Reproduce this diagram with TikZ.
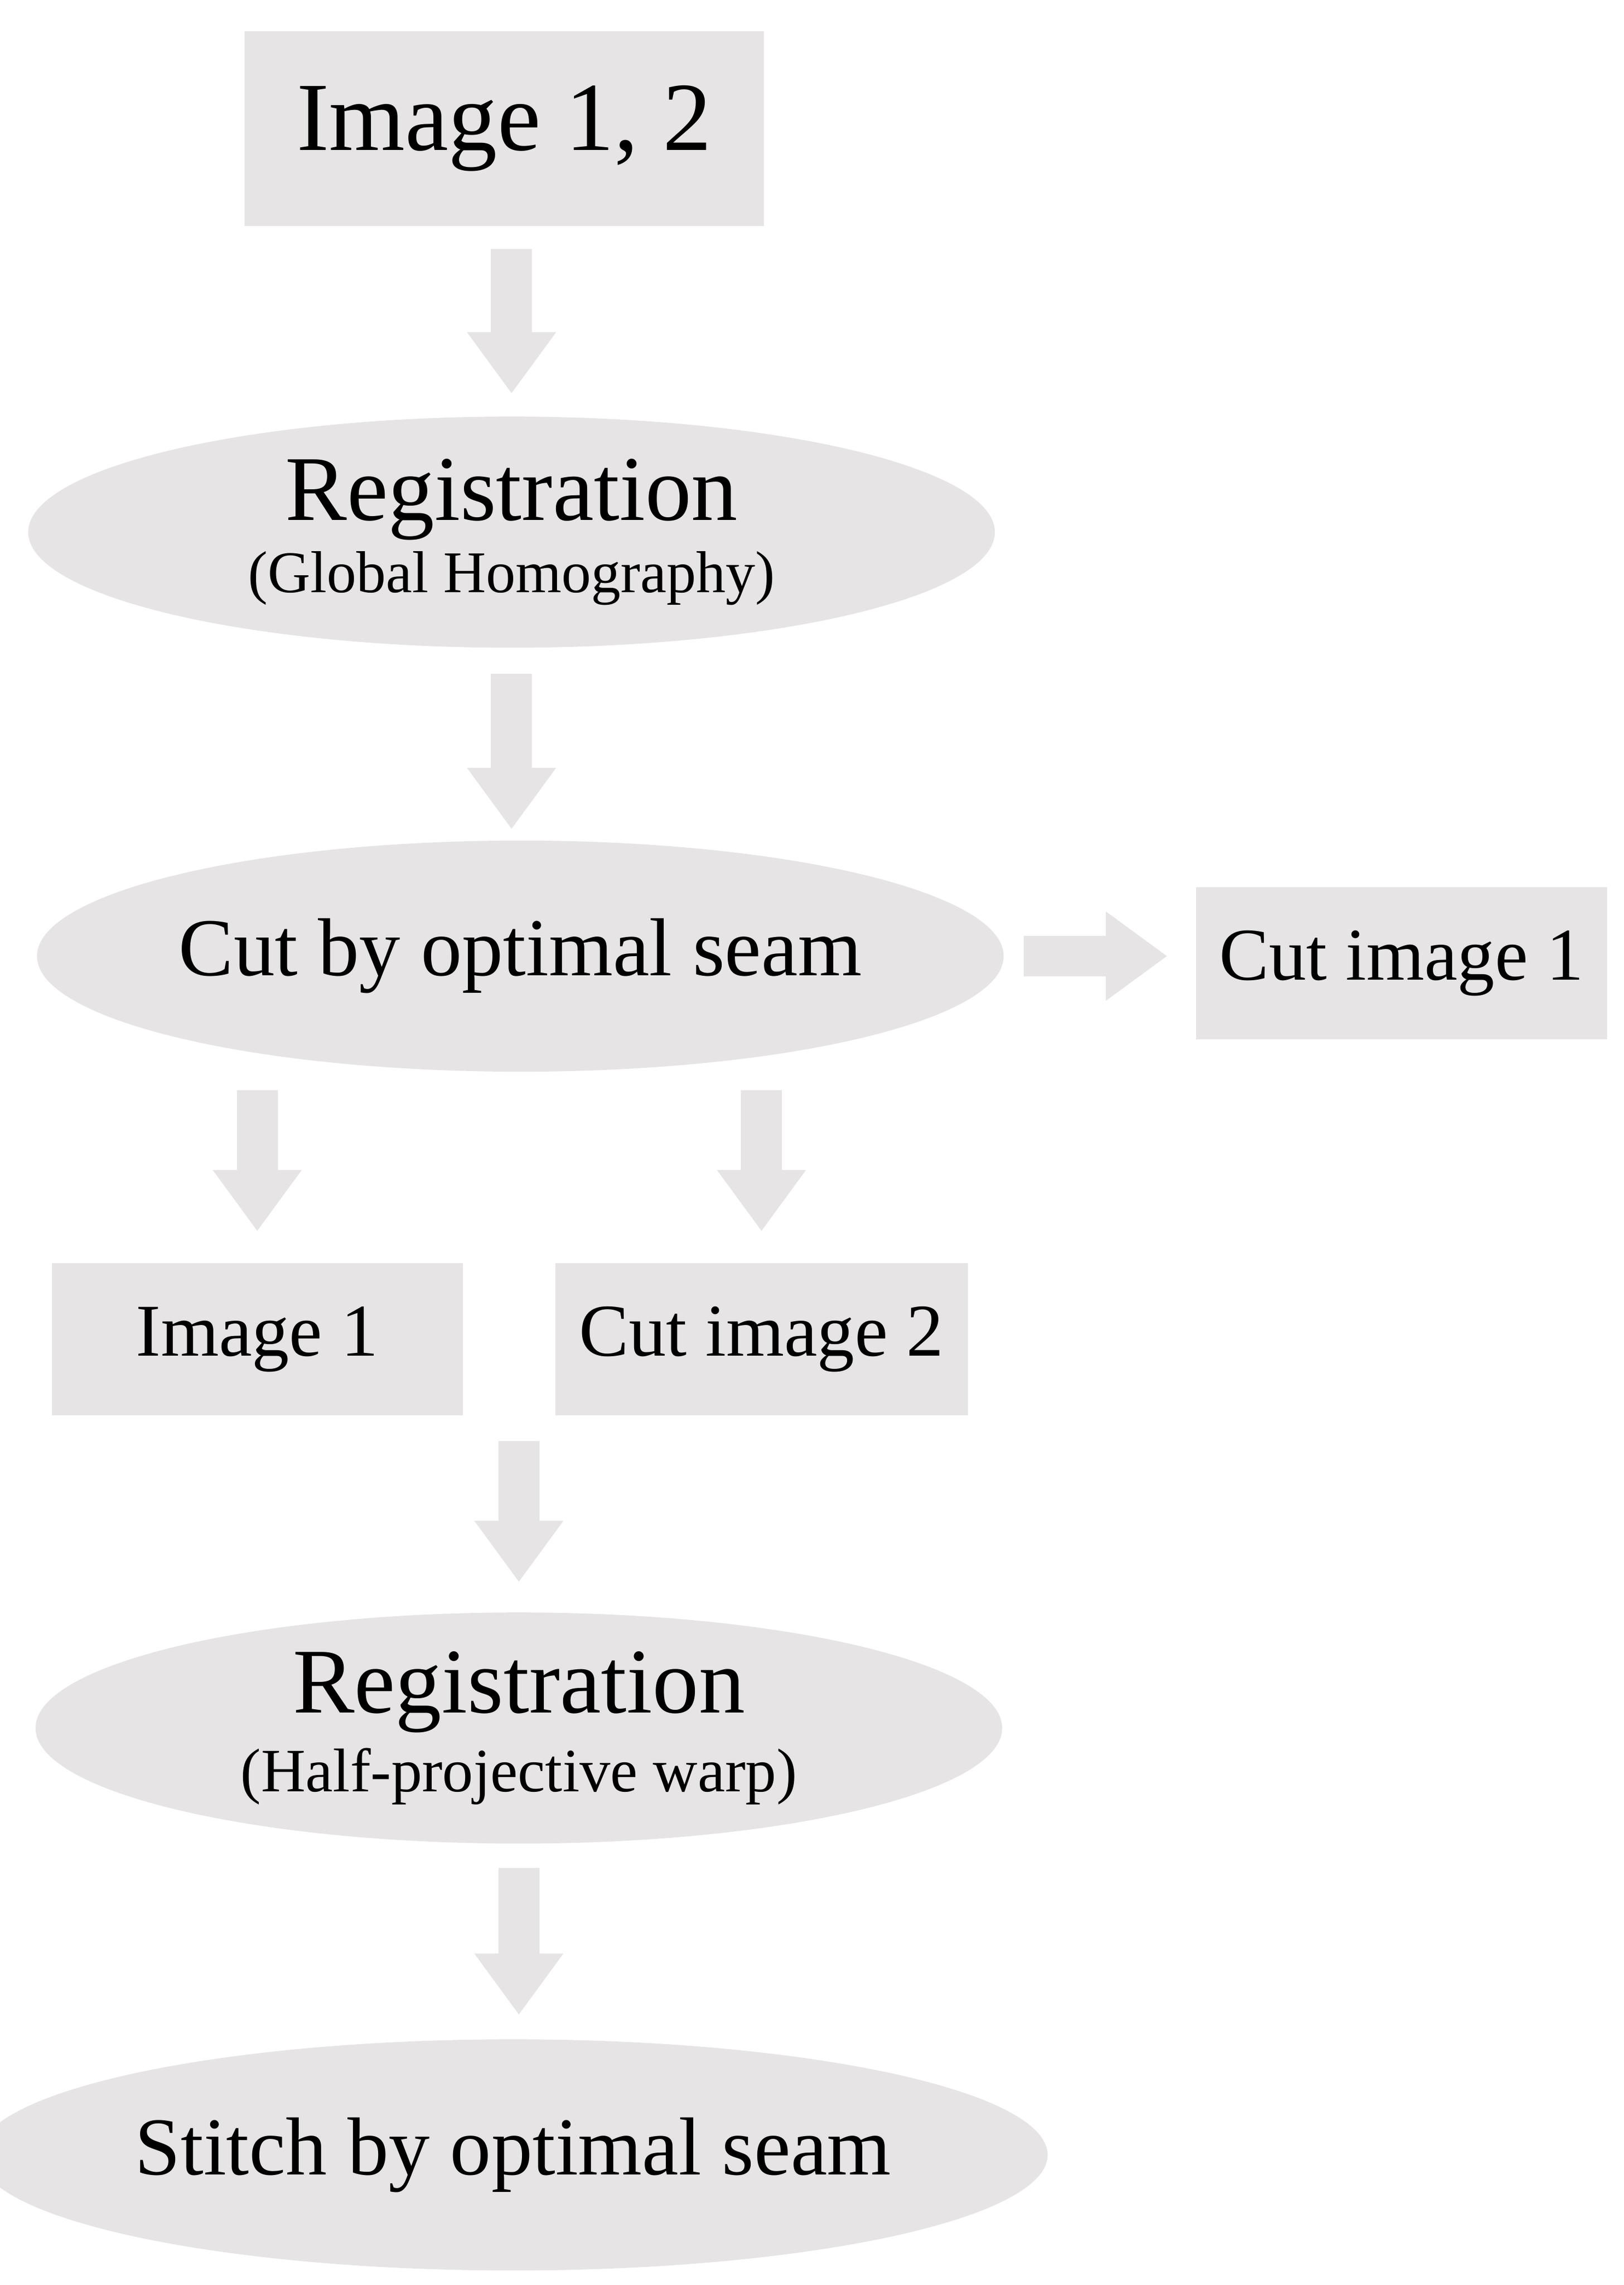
\documentclass[tikz,border=0pt]{standalone}
\usepackage{fontspec}
\setmainfont{Liberation Serif}
\usetikzlibrary{arrows.meta,shapes.geometric,positioning}
\definecolor{boxgray}{HTML}{E6E4E5}
\begin{document}
\begin{tikzpicture}[x=0.01cm, y=-0.01cm,
  shade step/.style={fill=boxgray, draw=none, inner sep=0pt, align=center},
  box/.style={shade step, rectangle},
  oval/.style={shade step, ellipse, minimum width=6.61cm, minimum height=1.58cm},
  flow/.style={boxgray, line width=0.28cm, -{Triangle[length=0.42cm, width=0.58cm]}}]

  \useasboundingbox (0,0) rectangle (1111,1563);

  \node[box, minimum width=3.55cm, minimum height=1.33cm, font=\fontsize{19}{22}\selectfont] (Images) at (345,88) {Image 1, 2};
  \node[oval] (Reg_Global) at (350,364) {{\fontsize{18}{20}\selectfont Registration}\\[2pt]{\fontsize{11.5}{13}\selectfont (Global Homography)}};
  \node[oval, font=\fontsize{16}{18}\selectfont] (Cut_Seam) at (356,654) {Cut by optimal seam};
  \node[box, minimum width=2.81cm, minimum height=1.04cm, font=\fontsize{14.5}{16}\selectfont] (Cut_Img1) at (959,659) {Cut image 1};
  \node[box, minimum width=2.81cm, minimum height=1.04cm, font=\fontsize{14.5}{16}\selectfont] (Img1) at (176,916) {Image 1};
  \node[box, minimum width=2.82cm, minimum height=1.04cm, font=\fontsize{14.5}{16}\selectfont] (Cut_Img2) at (521,916) {Cut image 2};
  \node[oval] (Reg_Half) at (355,1182) {{\fontsize{18}{20}\selectfont Registration}\\[2pt]{\fontsize{12}{14}\selectfont (Half-projective warp)}};
  \node[oval, font=\fontsize{16}{18}\selectfont] (Stitch_Seam) at (351,1474) {Stitch by optimal seam};

  \draw[flow, shorten <=0.15cm, shorten >=0.15cm] (Reg_Global.north |- Images.south) -- (Reg_Global.north);
  \draw[flow, shorten <=0.17cm, shorten >=0.07cm] (Reg_Global.south) -- (Reg_Global.south |- Cut_Seam.north);
  \draw[flow, shorten <=0.13cm, shorten >=0.19cm] (Cut_Seam.east) -- (Cut_Seam.east -| Cut_Img1.west);
  \draw[flow, shorten <=0.12cm, shorten >=0.21cm] (Img1.north |- Cut_Seam.south) -- (Img1.north);
  \draw[flow, shorten <=0.12cm, shorten >=0.21cm] (Cut_Img2.north |- Cut_Seam.south) -- (Cut_Img2.north);
  \draw[flow, shorten <=0.17cm, shorten >=0.2cm] (Reg_Half.north |- Img1.south) -- (Reg_Half.north);
  \draw[flow, shorten <=0.16cm, shorten >=0.16cm] (Reg_Half.south) -- (Reg_Half.south |- Stitch_Seam.north);

\end{tikzpicture}
\end{document}
